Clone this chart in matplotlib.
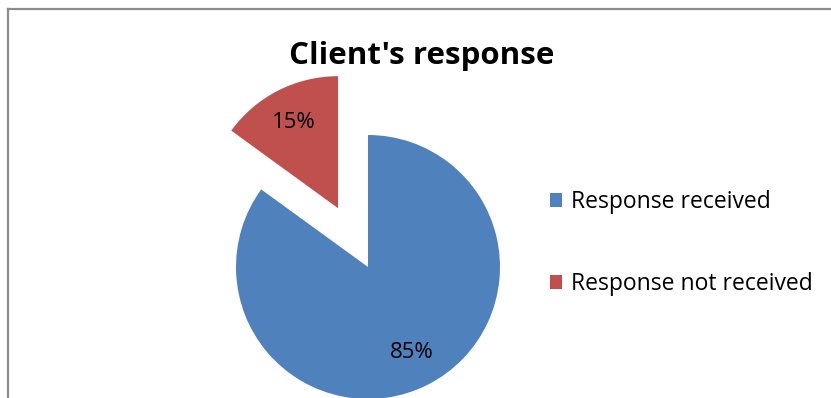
import matplotlib
matplotlib.use("Agg")
import matplotlib.pyplot as plt
from matplotlib.lines import Line2D

# ── data ─────────────────────────────────────────────────────────────────────
TITLE   = "Client's response"
LABELS  = ["Response received", "Response not received"]
VALUES  = [85, 15]
COLORS  = ["#4F81BD", "#C0504D"]
EXPLODE = [0.0, 0.5]          # fraction of the radius

W, H = 831, 398
R = 132
FONT = "Open Sans"

fig = plt.figure(figsize=(W / 100, H / 100), dpi=100)
ax = fig.add_axes([0, 0, 1, 1])

# pie drawn in pixel units (y up); explode is in data units, so scale by R
wedges, texts, autotexts = ax.pie(
    VALUES, colors=COLORS, explode=[e * R for e in EXPLODE],
    startangle=90, counterclock=False,
    center=(368, H - 267), radius=R,
    autopct="%d%%", pctdistance=0.73,
    textprops=dict(fontsize=16, family=FONT, color="black"),
    wedgeprops=dict(linewidth=0),
)
ax.set_xlim(0, W)
ax.set_ylim(0, H)
ax.set_aspect("equal")
ax.axis("off")

# chart frame (left and top edges)
ax.add_line(Line2D([8, 8], [0, H - 9], color="#8C8C8C", lw=1.6))
ax.add_line(Line2D([8, W], [H - 9, H - 9], color="#8C8C8C", lw=1.6))

ax.text(422, H - 56, TITLE, ha="center", va="center",
        fontsize=22.5, fontweight="bold", family=FONT)

leg = ax.legend(wedges, LABELS, loc="center left",
                bbox_to_anchor=(529 / W, (H - 243) / H),
                frameon=False, handlelength=0.55, handleheight=0.55,
                handletextpad=0.4, labelspacing=2.55,
                prop=dict(family=FONT, size=16.5))

fig.savefig("out.png", dpi=100)
